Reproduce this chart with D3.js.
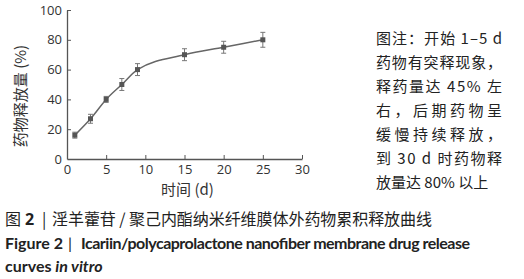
<!DOCTYPE html>
<meta charset="utf-8">
<body style="margin:0;background:#fff">
<script src="https://d3js.org/d3.v7.min.js"></script>
<script>
// release data
var days = [1, 3, 5, 7, 9, 15, 20, 25];
var release = [16, 27, 40, 50, 60, 70, 75, 80];
var errs = [2, 3, 2, 4, 4, 4, 4, 5];
var xTicks = [0, 5, 10, 15, 20, 25, 30];
var yTicks = [0, 20, 40, 60, 80, 100];

var noteLines = [
  "图注：开始 1–5 d",
  "药物有突释现象，",
  "释药量达 45% 左",
  "右，后期药物呈",
  "缓慢持续释放，",
  "到 30 d 时药物释",
  "放量达 80% 以上"
];

var width = 524, height = 279;
var svg = d3.select("body").append("svg")
    .attr("width", width)
    .attr("height", height)
    .style("font-family", "'Noto Sans CJK SC', 'Open Sans', sans-serif");

var x = d3.scaleLinear().domain([0, 30]).range([67, 302]);
var y = d3.scaleLinear().domain([0, 100]).range([159, 10]);

var xAxis = svg.append("g")
    .attr("transform", "translate(0," + y(0) + ")")
    .call(d3.axisBottom(x).tickValues(xTicks).tickSizeInner(-4).tickSizeOuter(0).tickPadding(6));
var yAxis = svg.append("g")
    .attr("transform", "translate(" + x(0) + ",0)")
    .call(d3.axisLeft(y).tickValues(yTicks).tickSizeInner(-4).tickSizeOuter(0).tickPadding(5));

svg.selectAll(".domain").attr("stroke", "#555").attr("stroke-width", 1.3);
svg.selectAll(".tick line").attr("stroke", "#555");
svg.selectAll(".tick text").attr("fill", "#333").style("font-family", "'Open Sans', sans-serif").style("font-size", "13px");
yAxis.selectAll(".tick").filter(d => d === 0).select("line").remove();

svg.append("text")
    .attr("x", x(15) + 3).attr("y", 195)
    .attr("text-anchor", "middle")
    .attr("fill", "#333")
    .style("font-size", "15px")
    .text("时间 (d)");

svg.append("text")
    .attr("transform", "translate(26," + 96 + ")rotate(-90)")
    .attr("text-anchor", "middle")
    .attr("fill", "#333")
    .style("font-size", "15px")
    .text("药物释放量 (%)");

var pts = days.map((d, i) => [d, release[i], errs[i]]);

var line = d3.line()
    .x(d => x(d[0]))
    .y(d => y(d[1]))
    .curve(d3.curveMonotoneX);

svg.append("path")
    .datum(pts)
    .attr("d", line)
    .attr("fill", "none")
    .attr("stroke", "#666")
    .attr("stroke-width", 1.5);

var eb = svg.append("g").attr("stroke", "#777").attr("stroke-width", 1);
eb.selectAll("line.v").data(pts).enter().append("line")
    .attr("x1", d => x(d[0])).attr("x2", d => x(d[0]))
    .attr("y1", d => y(d[1] - d[2])).attr("y2", d => y(d[1] + d[2]));
eb.selectAll("line.t").data(pts).enter().append("line")
    .attr("x1", d => x(d[0]) - 2.5).attr("x2", d => x(d[0]) + 2.5)
    .attr("y1", d => y(d[1] + d[2])).attr("y2", d => y(d[1] + d[2]));
eb.selectAll("line.b").data(pts).enter().append("line")
    .attr("x1", d => x(d[0]) - 2.5).attr("x2", d => x(d[0]) + 2.5)
    .attr("y1", d => y(d[1] - d[2])).attr("y2", d => y(d[1] - d[2]));

svg.selectAll("rect.pt").data(pts).enter().append("rect")
    .attr("x", d => x(d[0]) - 2.5).attr("y", d => y(d[1]) - 2.5)
    .attr("width", 5).attr("height", 5)
    .attr("fill", "#555");

// note on the right
svg.selectAll("text.note").data(noteLines).enter().append("text")
    .attr("x", 376)
    .attr("y", (d, i) => 44 + i * 24)
    .attr("fill", "#222")
    .style("font-size", "15px")
    .attr("textLength", (d, i) => i < noteLines.length - 1 ? 126 : null)
    .attr("lengthAdjust", "spacing")
    .text(d => d);

// caption
var cap1 = svg.append("text").attr("y", 225).style("font-size", "16px").attr("fill", "#222");
cap1.append("tspan").attr("x", 5).text("图");
cap1.append("tspan").attr("x", 25).style("font-weight", "bold").style("font-family", "'Open Sans', sans-serif").text("2");
cap1.append("tspan").attr("x", 42).text("|");
cap1.append("tspan").attr("x", 52).attr("textLength", 380).attr("lengthAdjust", "spacing")
    .text("淫羊藿苷 / 聚己内酯纳米纤维膜体外药物累积释放曲线");

var cap2 = svg.append("text").attr("y", 249)
    .style("font-size", "16px").style("font-weight", "bold")
    .style("font-family", "Lato, 'Open Sans', sans-serif")
    .attr("fill", "#222");
cap2.append("tspan").attr("x", 5).text("Figure 2");
cap2.append("tspan").attr("x", 68).style("font-weight", "normal").text("|");
cap2.append("tspan").attr("x", 81).attr("textLength", 389).attr("lengthAdjust", "spacing")
    .text("Icariin/polycaprolactone nanofiber membrane drug release");

var cap3 = svg.append("text").attr("x", 5).attr("y", 272)
    .style("font-size", "16px").style("font-weight", "bold")
    .style("font-family", "Lato, 'Open Sans', sans-serif")
    .attr("fill", "#222");
cap3.append("tspan").text("curves ");
cap3.append("tspan").style("font-style", "italic").text("in vitro");
</script>
</body>
</html>
